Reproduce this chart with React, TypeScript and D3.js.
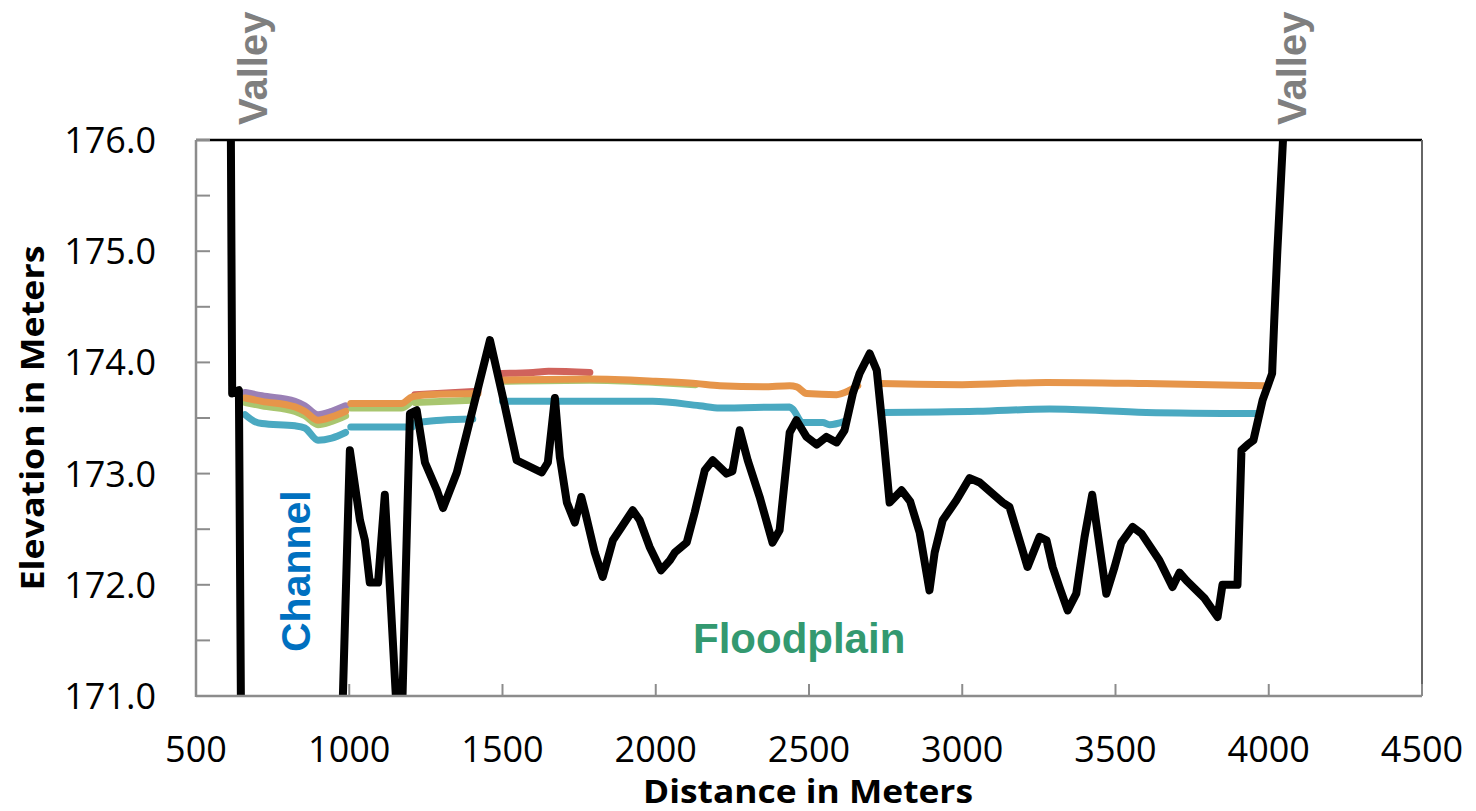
import React from "react";
import * as d3 from "d3";

const W = 1476;
const H = 811;

// ground profile [distance, elevation]
const ground: [number, number][] = [
  [612, 177.0], [618, 173.72], [640, 173.75], [648, 170.3], [972, 170.3],
  [1002, 173.21], [1035, 172.58], [1051, 172.4], [1067, 172.02], [1094, 172.02],
  [1116, 172.81], [1160, 170.6], [1170, 170.6], [1198, 173.54], [1220, 173.57],
  [1247, 173.1], [1286, 172.85], [1306, 172.69], [1351, 173.01], [1384, 173.37],
  [1459, 174.2], [1501, 173.69], [1546, 173.12], [1628, 173.01], [1648, 173.1],
  [1671, 173.68], [1687, 173.15], [1710, 172.74], [1736, 172.56], [1757, 172.79],
  [1770, 172.65], [1801, 172.29], [1827, 172.07], [1860, 172.4], [1925, 172.67],
  [1948, 172.58], [1980, 172.34], [2017, 172.13], [2046, 172.22], [2062, 172.29],
  [2101, 172.38], [2127, 172.65], [2160, 173.03], [2186, 173.12], [2231, 173.0],
  [2250, 173.02], [2274, 173.39], [2300, 173.12], [2339, 172.79], [2381, 172.38],
  [2404, 172.49], [2437, 173.37], [2459, 173.48], [2492, 173.33], [2525, 173.26],
  [2557, 173.33], [2590, 173.28], [2616, 173.39], [2643, 173.72], [2665, 173.9],
  [2698, 174.08], [2721, 173.93], [2741, 173.39], [2763, 172.74], [2802, 172.85],
  [2830, 172.75], [2861, 172.47], [2893, 171.95], [2910, 172.29], [2936, 172.58],
  [2981, 172.76], [3024, 172.96], [3057, 172.92], [3132, 172.74], [3154, 172.7],
  [3187, 172.4], [3213, 172.16], [3252, 172.43], [3275, 172.4], [3295, 172.16],
  [3317, 171.98], [3344, 171.77], [3372, 171.92], [3399, 172.43], [3424, 172.81],
  [3470, 171.92], [3497, 172.16], [3519, 172.38], [3556, 172.52], [3585, 172.46],
  [3643, 172.22], [3686, 171.98], [3709, 172.11], [3731, 172.04], [3790, 171.88],
  [3833, 171.71], [3849, 172.0], [3898, 172.0], [3911, 173.21], [3931, 173.26],
  [3950, 173.3], [3980, 173.66], [4011, 173.9], [4018, 174.38], [4028, 175.0],
  [4052, 176.3],
];

// water surface profiles, each a list of segments of [distance, elevation]
const purpleSeries: [number, number][][] = [
  [[660, 173.73], [715, 173.7], [823, 173.65], [855, 173.61], [898, 173.53], [943, 173.56], [988, 173.61]],
];
const orangeSeries: [number, number][][] = [
  [[660, 173.68], [715, 173.65], [823, 173.6], [855, 173.56], [898, 173.48], [943, 173.51], [988, 173.56]],
  [[1005, 173.63], [1170, 173.63], [1205, 173.69], [1260, 173.71], [1420, 173.72]],
  [[1498, 173.84], [1785, 173.85], [2000, 173.83], [2130, 173.81], [2209, 173.79], [2350, 173.78],
   [2437, 173.79], [2460, 173.78], [2492, 173.72], [2590, 173.71], [2633, 173.75], [2659, 173.79]],
  [[2730, 173.81], [3000, 173.8], [3275, 173.82], [3600, 173.81], [3986, 173.79]],
];
const greenSeries: [number, number][][] = [
  [[660, 173.64], [715, 173.61], [823, 173.56], [855, 173.52], [898, 173.44], [943, 173.47], [988, 173.52]],
  [[1005, 173.59], [1170, 173.59], [1195, 173.63]],
  [[1214, 173.64], [1400, 173.66]],
  [[1500, 173.83], [1785, 173.84], [2000, 173.82], [2130, 173.8]],
];
const redSeries: [number, number][][] = [
  [[1214, 173.71], [1420, 173.74]],
  [[1498, 173.9], [1600, 173.91], [1650, 173.92], [1785, 173.91]],
];
const tealSeries: [number, number][][] = [
  [[660, 173.53], [690, 173.47], [715, 173.45], [823, 173.43], [855, 173.41], [898, 173.3], [943, 173.32], [988, 173.37]],
  [[1005, 173.42], [1205, 173.42]],
  [[1218, 173.46], [1300, 173.48], [1403, 173.49]],
  [[1500, 173.65], [1990, 173.65], [2143, 173.61], [2209, 173.59], [2437, 173.6], [2447, 173.58],
   [2479, 173.46], [2545, 173.46], [2567, 173.44], [2616, 173.47]],
  [[2740, 173.55], [3050, 173.56], [3285, 173.58], [3600, 173.55], [3963, 173.54]],
];

const xTicks = [500, 1000, 1500, 2000, 2500, 3000, 3500, 4000, 4500];
const yTicks = [171, 172, 173, 174, 175, 176];
const yMinorTicks = [171, 171.5, 172, 172.5, 173, 173.5, 174, 174.5, 175, 175.5, 176];

const water = [
  { name: "green", color: "#a9c66f", data: greenSeries },
  { name: "red", color: "#d0635c", data: redSeries },
  { name: "purple", color: "#9a80b6", data: purpleSeries },
  { name: "orange", color: "#e6954a", data: orangeSeries },
  { name: "teal", color: "#4aa9c1", data: tealSeries },
];

export default function App() {
  const left = 196, right = 1422, top = 140, bottom = 696;
  const x = d3.scaleLinear().domain([500, 4500]).range([left, right]);
  const y = d3.scaleLinear().domain([171, 176]).range([bottom, top]);
  const line = d3
    .line<[number, number]>()
    .x((d) => x(d[0]))
    .y((d) => y(d[1]))
    .curve(d3.curveMonotoneX);
  const groundLine = d3
    .line<[number, number]>()
    .x((d) => x(d[0]))
    .y((d) => y(d[1]));
  const axisGray = "#8c8c8c";
  const tickFont = "'Open Sans', 'DejaVu Sans', sans-serif";
  const boldFont = "'Open Sans', Arial, sans-serif";
  const arial = "'Liberation Sans', Arial, sans-serif";

  return (
    <svg
      width={W}
      height={H}
      style={{ position: "absolute", left: 0, top: 0, background: "#fff" }}
    >
      <defs>
        <clipPath id="plotClip">
          <rect x={left} y={top} width={right - left} height={bottom - top} />
        </clipPath>
      </defs>
      <rect x={0} y={0} width={W} height={H} fill="#fff" />

      {/* water lines */}
      <g clipPath="url(#plotClip)">
        {water.map((s) =>
          s.data.map((seg, i) => (
            <path
              key={s.name + i}
              d={line(seg) || ""}
              fill="none"
              stroke={s.color}
              strokeWidth={7}
              strokeLinecap="round"
              strokeLinejoin="round"
            />
          ))
        )}
        <path
          d={groundLine(ground) || ""}
          fill="none"
          stroke="#000"
          strokeWidth={8}
          strokeLinejoin="round"
          strokeLinecap="round"
        />
      </g>

      {/* frame */}
      <line x1={left} x2={right} y1={top} y2={top} stroke="#000" strokeWidth={2.5} />
      <line x1={right} x2={right} y1={top} y2={bottom} stroke="#666" strokeWidth={2} />
      <line x1={left} x2={left} y1={top} y2={bottom + 1} stroke={axisGray} strokeWidth={2.5} />
      <line x1={left} x2={right} y1={bottom} y2={bottom} stroke={axisGray} strokeWidth={2.5} />

      {/* y ticks */}
      {yMinorTicks.map((t) => (
        <line key={"ym" + t} x1={left} x2={left + 14} y1={y(t)} y2={y(t)} stroke={axisGray} strokeWidth={2} />
      ))}
      {yTicks.map((t) => (
        <text
          key={"yl" + t}
          x={156}
          y={y(t) + 13}
          textAnchor="end"
          fontFamily={tickFont}
          fontSize={36}
          fill="#000"
        >
          {d3.format(".1f")(t)}
        </text>
      ))}

      {/* x ticks */}
      {xTicks.map((t) => (
        <g key={"x" + t}>
          <line x1={x(t)} x2={x(t)} y1={bottom} y2={bottom - 12} stroke={axisGray} strokeWidth={2} />
          <text
            x={x(t)}
            y={762}
            textAnchor="middle"
            fontFamily={tickFont}
            fontSize={36}
            fill="#000"
          >
            {t}
          </text>
        </g>
      ))}

      {/* axis titles */}
      <text
        x={808}
        y={803}
        textAnchor="middle"
        fontFamily={boldFont}
        fontWeight="bold"
        fontSize={32}
        textLength={330}
        lengthAdjust="spacingAndGlyphs"
      >
        Distance in Meters
      </text>
      <text
        transform={`translate(44,418) rotate(-90)`}
        textAnchor="middle"
        fontFamily={boldFont}
        fontWeight="bold"
        fontSize={33}
        textLength={345}
        lengthAdjust="spacingAndGlyphs"
      >
        Elevation in Meters
      </text>

      {/* annotations */}
      <text
        transform={`translate(267,125) rotate(-90)`}
        fontFamily={arial}
        fontWeight="bold"
        fontSize={40}
        fill="#7f7f7f"
      >
        Valley
      </text>
      <text
        transform={`translate(1306,125) rotate(-90)`}
        fontFamily={arial}
        fontWeight="bold"
        fontSize={40}
        fill="#7f7f7f"
      >
        Valley
      </text>
      <text
        transform={`translate(310,652) rotate(-90)`}
        fontFamily={arial}
        fontWeight="bold"
        fontSize={41}
        fill="#0070c0"
      >
        Channel
      </text>
      <text x={693} y={653} fontFamily={arial} fontWeight="bold" fontSize={42} fill="#339970">
        Floodplain
      </text>
    </svg>
  );
}
